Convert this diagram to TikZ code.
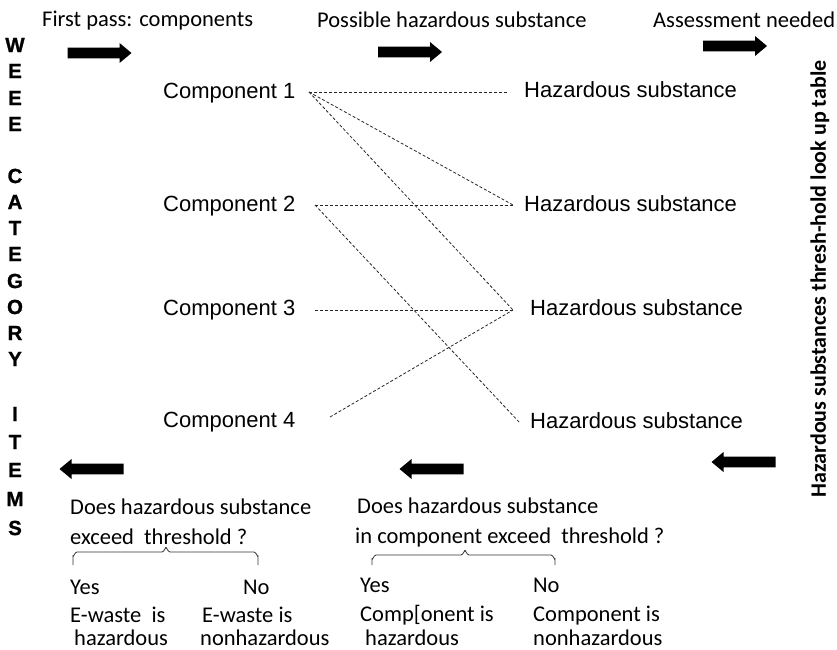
\documentclass[tikz,border=0pt]{standalone}
\usepackage{fontspec}
\setmainfont{Carlito}
\newfontfamily\arialfont{Liberation Sans}
\newfontfamily\heavyfont[FakeBold=1]{Liberation Sans}

\tikzset{
  blockarrow/.pic={
    \fill (-32,-5.3) -- (20,-5.3) -- (20,-10) -- (32,0) -- (20,10) -- (20,5.3) -- (-32,5.3) -- cycle;
  }
}

\begin{document}
\begin{tikzpicture}[x=1bp,y=-1bp,
  lbl/.style={font=\fontsize{22.5bp}{26bp}\selectfont, inner sep=0pt, anchor=base west},
  item/.style={font=\arialfont\fontsize{22bp}{26bp}\selectfont, inner sep=0pt, anchor=base west},
  link/.style={draw=black!85, line width=0.8bp, dash pattern=on 3bp off 2bp},
  letter/.style={font=\heavyfont\bfseries\fontsize{20.5bp}{21bp}\selectfont, inner sep=0pt},
  bracepath/.style={draw=black!80, line width=0.8bp}
]
\useasboundingbox (0,0) rectangle (837,650);

% headings along the top
\node[lbl] (h-first) at (42,27) {First pass: components};
\node[lbl] (h-poss) at (317,28) {Possible hazardous substance};
\node[lbl] (h-assess) at (653,28) {Assessment needed};

% flow arrows
\pic at (99.5,53) {blockarrow};
\pic at (410,52) {blockarrow};
\pic at (735,46) {blockarrow};
\pic[rotate=180] at (91.5,469) {blockarrow};
\pic[rotate=180] at (431.5,469) {blockarrow};
\pic[rotate=180] at (743.5,462) {blockarrow};

% vertical label on the left
\foreach \ch/\yy [count=\i] in {W/45,E/71,E/98,E/124,C/176,A/202,T/228,E/254,G/281,O/307,R/333,Y/359,I/414,T/442,E/470,M/499,S/528}
  \node[letter] (let\i) at (15,\yy) {\ch};

% vertical label on the right
\node[font=\bfseries\fontsize{22bp}{24bp}\selectfont, rotate=90, inner sep=0pt] (table) at (820,279)
  {Hazardous substances thresh-hold look up table};

% components
\node[item] (c1) at (163,98.5) {Component 1};
\node[item] (c2) at (163,211) {Component 2};
\node[item] (c3) at (163,315) {Component 3};
\node[item] (c4) at (163,427) {Component 4};

% hazardous substances
\node[item] (s1) at (524,98) {Hazardous substance};
\node[item] (s2) at (524,211) {Hazardous substance};
\node[item] (s3) at (530,315) {Hazardous substance};
\node[item] (s4) at (530,428) {Hazardous substance};

% connection points
\coordinate (c1p) at (309,92);
\coordinate (c2p) at (315,205);
\coordinate (c3p) at (315,310);
\coordinate (c4p) at (330,417);
\coordinate (s1p) at (507,92);
\coordinate (s2p) at (513,205);
\coordinate (s3p) at (513,310);
\coordinate (s4p) at (520,423);

\draw[link] (c1p) -- (s1p);
\draw[link] (c1p) -- (s2p);
\draw[link] (c1p) -- (s3p);
\draw[link] (c2p) -- (s2p);
\draw[link] (c2p) -- (s4p);
\draw[link] (c3p) -- (s3p);
\draw[link] (c4p) -- (s3p);

% decision on the whole item
\node[lbl] (q1a) at (70,514) {Does hazardous substance};
\node[lbl] (q1b) at (70,544) {exceed\ \ threshold ?};
\draw[bracepath] (73,565) -- (73,556) to[out=-90,in=180] (77,552) -- (162,552)
  to[out=0,in=90] (166,548) to[out=90,in=180] (170,552) -- (254,552)
  to[out=0,in=-90] (258,556) -- (258,565);
\node[lbl] (y1) at (70,594) {Yes};
\node[lbl] (n1) at (243,594) {No};
\node[lbl] (y1a) at (70,622) {E-waste\ \ is};
\node[lbl] (n1a) at (202,622) {E-waste is};
\node[lbl] (y1b) at (74,645) {hazardous};
\node[lbl] (n1b) at (200,645) {nonhazardous};

% decision on each component
\node[lbl] (q2a) at (357,513) {Does hazardous substance};
\node[lbl] (q2b) at (355,543) {in component exceed\ \ threshold ?};
\draw[bracepath] (372,565) -- (372,559) to[out=-90,in=180] (376,555) -- (461,555)
  to[out=0,in=90] (465,551) to[out=90,in=180] (469,555) -- (551,555)
  to[out=0,in=-90] (555,559) -- (555,565);
\node[lbl] (y2) at (360,592) {Yes};
\node[lbl] (n2) at (533,592) {No};
\node[lbl] (y2a) at (360,621) {Comp[onent is};
\node[lbl] (n2a) at (533,621) {Component is};
\node[lbl] (y2b) at (365,645) {hazardous};
\node[lbl] (n2b) at (533,645) {nonhazardous};
\end{tikzpicture}
\end{document}
